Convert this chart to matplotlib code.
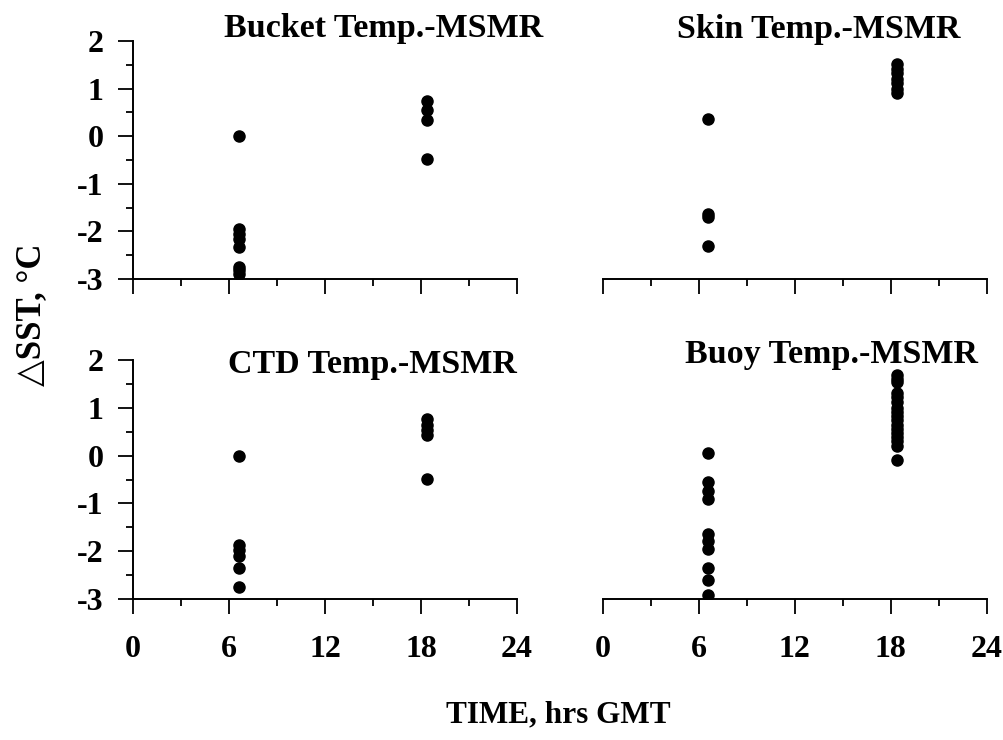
import matplotlib.pyplot as plt
from matplotlib.ticker import MultipleLocator

plt.rcParams['font.family'] = ['Liberation Serif', 'DejaVu Serif']
plt.rcParams['font.weight'] = 'bold'
plt.rcParams['axes.unicode_minus'] = False

# time of observation (hrs GMT) for the two groups of points
t_morning = 6.6
t_evening = 18.4

bucket_am = [0.0, -1.95, -2.05, -2.15, -2.33, -2.75, -2.82, -2.9]
bucket_pm = [0.73, 0.54, 0.34, -0.47]

skin_am = [0.36, -1.64, -1.70, -2.30]
skin_pm = [1.51, 1.41, 1.32, 1.21, 1.11, 1.0, 0.90]

ctd_am = [0.0, -1.87, -1.98, -2.10, -2.36, -2.74]
ctd_pm = [0.76, 0.65, 0.54, 0.43, -0.48]

buoy_am = [0.05, -0.56, -0.74, -0.91, -1.63, -1.79, -1.96, -2.35, -2.60, -2.91]
buoy_pm = [1.68, 1.60, 1.54, 1.30, 1.22, 1.12, 1.0, 0.91, 0.83, 0.74, 0.65,
           0.56, 0.47, 0.38, 0.30, 0.21, -0.10]

titles = ["Bucket Temp.-MSMR", "Skin Temp.-MSMR", "CTD Temp.-MSMR", "Buoy Temp.-MSMR"]
panels = [(bucket_am, bucket_pm), (skin_am, skin_pm), (ctd_am, ctd_pm), (buoy_am, buoy_pm)]

fig = plt.figure(figsize=(10.04, 7.40), dpi=100)

# axes boxes in figure fractions: left, bottom, width, height
boxes = [
    [0.1325, 0.623, 0.3825, 0.3216],
    [0.6003, 0.623, 0.3827, 0.3216],
    [0.1325, 0.1905, 0.3825, 0.323],
    [0.6003, 0.1905, 0.3827, 0.323],
]
title_pos = [(0.382, 0.950), (0.815, 0.949), (0.371, 0.496), (0.828, 0.509)]

for i, (box, (am, pm)) in enumerate(zip(boxes, panels)):
    ax = fig.add_axes(box)
    ax.plot([t_morning] * len(am), am, 'o', color='black', ms=8)
    ax.plot([t_evening] * len(pm), pm, 'o', color='black', ms=8)
    ax.set_xlim(0, 24)
    ax.set_ylim(-3, 2)
    ax.spines['top'].set_visible(False)
    ax.spines['right'].set_visible(False)
    for s in ax.spines.values():
        s.set_linewidth(1.4)
    ax.xaxis.set_major_locator(MultipleLocator(6))
    ax.xaxis.set_minor_locator(MultipleLocator(3))
    ax.yaxis.set_major_locator(MultipleLocator(1))
    ax.yaxis.set_minor_locator(MultipleLocator(0.5))
    ax.tick_params(which='major', direction='out', length=11, width=1.3, labelsize=23)
    ax.tick_params(axis='x', pad=15)
    ax.tick_params(axis='y', pad=10)
    ax.tick_params(which='minor', direction='out', length=5, width=1.3)
    if i % 2 == 1:
        ax.spines['left'].set_visible(False)
        ax.tick_params(axis='y', which='both', left=False, labelleft=False)
    if i < 2:
        ax.tick_params(axis='x', labelbottom=False)
    fig.text(title_pos[i][0], title_pos[i][1], titles[i], ha='center', va='baseline',
             fontsize=24.5, fontweight='bold')

fig.text(0.031, 0.574, "\u25B3SST, \u00B0C", rotation=90, ha='center', va='center',
         fontsize=25, fontweight='bold')
fig.text(0.556, 0.034, "TIME, hrs GMT", ha='center', va='center',
         fontsize=22.5, fontweight='bold')

fig.savefig("out.png", dpi=100)
